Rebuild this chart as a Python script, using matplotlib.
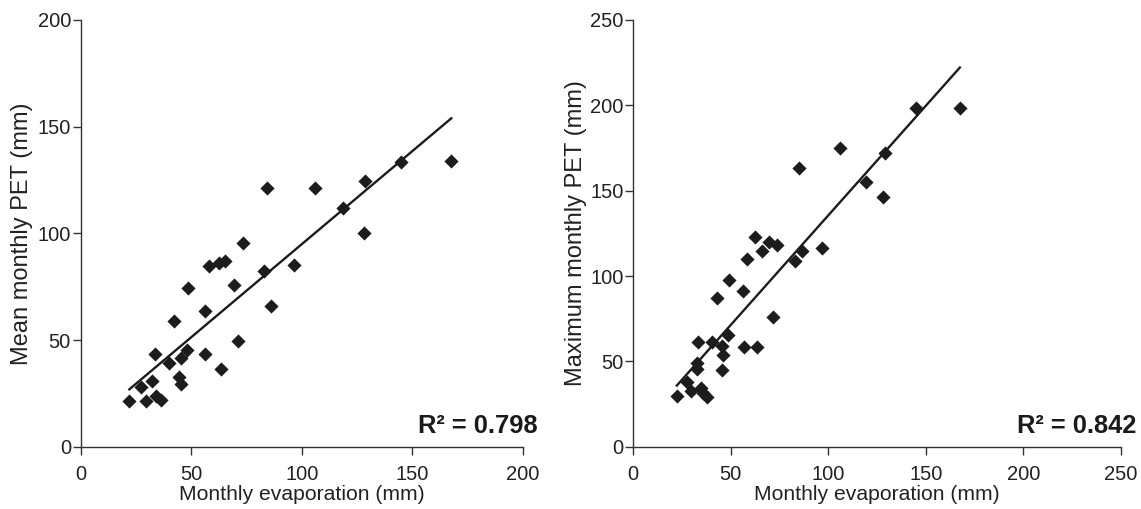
import matplotlib
matplotlib.use("Agg")
import matplotlib.pyplot as plt
import numpy as np

plt.rcParams['font.family'] = ['Liberation Sans', 'DejaVu Sans']

# Left panel: mean monthly PET vs monthly evaporation
mean_evap = [22.0, 27.1, 29.5, 32.1, 33.5, 34.1, 36.3, 39.8, 42.4, 44.6, 45.4,
             45.5, 48.0, 48.6, 56.2, 56.2, 58.2, 62.7, 65.3, 63.3, 69.4, 71.0,
             73.4, 82.9, 84.4, 86.2, 96.4, 106.0, 118.6, 128.1, 128.7, 144.8, 167.7]
mean_pet = [21.4, 27.8, 21.4, 30.8, 43.6, 23.8, 21.9, 39.4, 58.8, 32.5, 29.3,
            41.4, 45.3, 74.5, 63.8, 43.6, 84.6, 86.0, 87.2, 36.6, 75.9, 49.6,
            95.4, 82.5, 121.1, 65.8, 85.3, 121.1, 111.8, 100.3, 124.7, 133.3, 134.1]

# Right panel: maximum monthly PET vs monthly evaporation
max_evap = [22.3, 27.7, 29.4, 32.5, 32.5, 33.3, 34.7, 35.9, 37.6, 40.5, 42.8,
            45.3, 45.3, 46.2, 48.4, 49.1, 56.4, 56.9, 58.5, 62.4, 63.3, 65.8,
            69.7, 71.5, 73.5, 82.9, 85.1, 86.4, 96.6, 106.0, 119.5, 128.2, 129.1,
            144.8, 167.5]
max_pet = [29.6, 38.0, 32.6, 48.8, 45.8, 61.4, 34.1, 31.2, 28.9, 61.4, 87.4,
           44.8, 58.9, 54.0, 65.2, 97.5, 91.3, 58.5, 110.2, 122.9, 58.5, 114.5,
           120.0, 75.7, 118.0, 108.8, 163.5, 114.5, 116.5, 175.2, 155.1, 146.3,
           172.3, 198.6, 198.6]

r2_labels = ["R\u00b2 = 0.798", "R\u00b2 = 0.842"]
y_labels = ["Mean monthly PET (mm)", "Maximum monthly PET (mm)"]
x_label = "Monthly evaporation (mm)"
x_ticks = [[0, 50, 100, 150, 200], [0, 50, 100, 150, 200, 250]]
y_ticks = [[0, 50, 100, 150, 200], [0, 50, 100, 150, 200, 250]]

W, H = 1141, 509
fig = plt.figure(figsize=(W / 100, H / 100), dpi=100)

axes_px = [(80.7, 522.7), (633.3, 1120.7)]
top_px, bot_px = 20, 446.7
text_right_px = [538, 1136]
ylabel_pad = [3, 2]

col = '#1c1c1c'
datasets = [(mean_evap, mean_pet), (max_evap, max_pet)]
for i, ((xs, ys), (l, r)) in enumerate(zip(datasets, axes_px)):
    ax = fig.add_axes([l / W, (H - bot_px) / H, (r - l) / W, (bot_px - top_px) / H])
    xs = np.array(xs)
    ys = np.array(ys)
    ax.scatter(xs, ys, marker='D', s=52, color=col, zorder=3, linewidths=0)
    k, b = np.polyfit(xs, ys, 1)
    xl = np.array([xs.min(), xs.max()])
    ax.plot(xl, k * xl + b, color=col, lw=1.7, zorder=2)
    ax.set_xlim(x_ticks[i][0], x_ticks[i][-1])
    ax.set_ylim(y_ticks[i][0], y_ticks[i][-1])
    ax.set_xticks(x_ticks[i])
    ax.set_yticks(y_ticks[i])
    for s in ['top', 'right']:
        ax.spines[s].set_visible(False)
    for s in ['left', 'bottom']:
        ax.spines[s].set_color('#333333')
        ax.spines[s].set_linewidth(1.0)
    ax.tick_params(axis='both', direction='out', length=6, width=1.0,
                   color='#333333', labelsize=14.5, labelcolor='#222222')
    ax.tick_params(axis='x', pad=7)
    ax.tick_params(axis='y', pad=1)
    ax.set_xlabel(x_label, fontsize=15.2, color='#222222', labelpad=1)
    ax.set_ylabel(y_labels[i], fontsize=17, color='#222222', labelpad=ylabel_pad[i])
    xt = (text_right_px[i] - l) / (r - l)
    ax.text(xt, (bot_px - 432.7) / (bot_px - top_px), r2_labels[i],
            transform=ax.transAxes, ha='right', va='baseline',
            fontsize=18.4, fontweight='bold', color='#1a1a1a', clip_on=False)

fig.savefig('out.png', dpi=100)
